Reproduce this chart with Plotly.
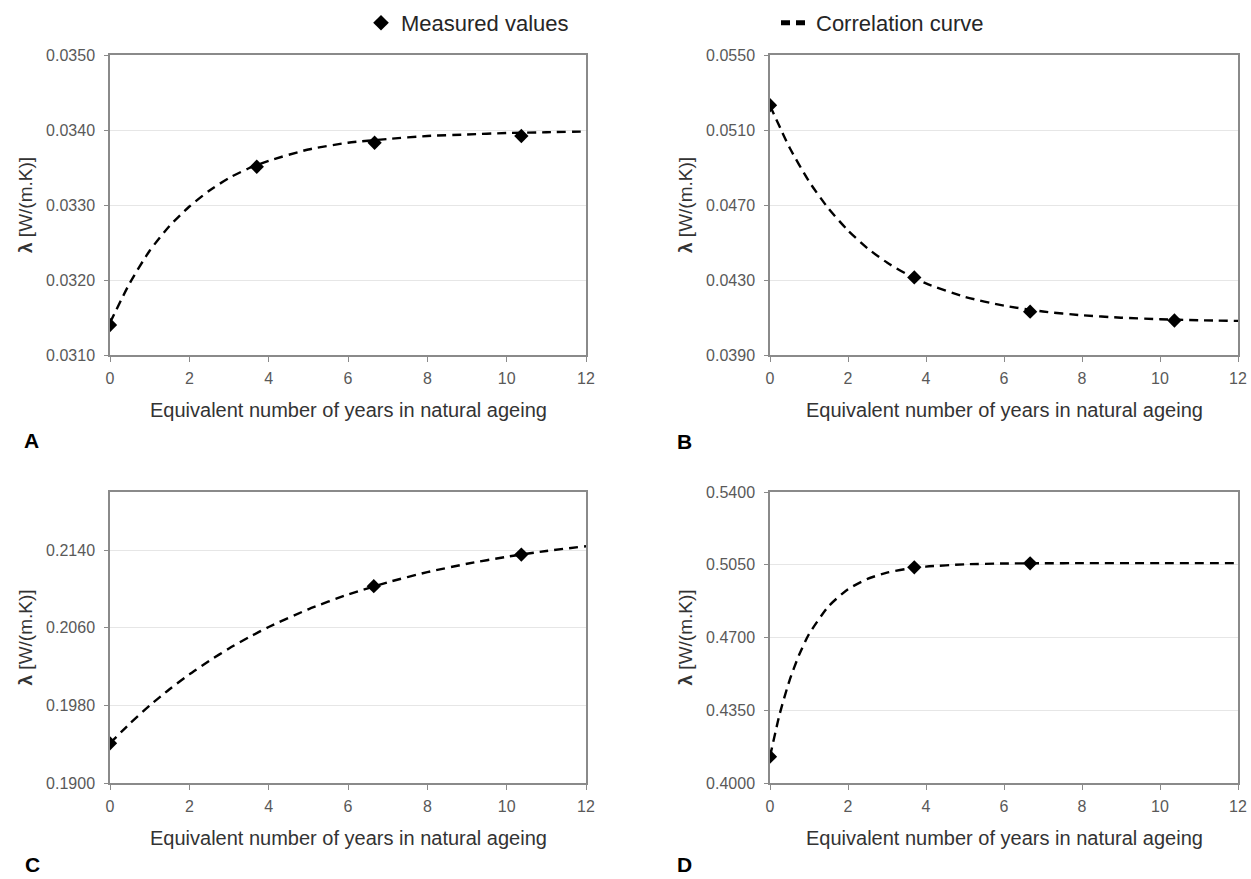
import plotly.graph_objects as go

# ---------------- data ----------------
# measured values (read from the picture)
a_x = [0, 3.7, 6.67, 10.37]
a_y = [0.03140, 0.03351, 0.03383, 0.03392]
b_x = [0, 3.7, 6.67, 10.37]
b_y = [0.05232, 0.04314, 0.04131, 0.04084]
c_x = [0, 6.65, 10.37]
c_y = [0.19409, 0.21029, 0.21355]
d_x = [0, 3.7, 6.67]
d_y = [0.41266, 0.50376, 0.50570]

# correlation curves
curve_x = [0, 0.5, 1, 1.5, 2, 2.5, 3, 3.5, 4, 5, 6, 7, 8, 9, 10, 11, 12]
a_curve = [0.03143, 0.03196, 0.03239, 0.03272, 0.03298, 0.03319, 0.03336, 0.03349,
           0.03359, 0.03374, 0.03383, 0.03388, 0.03392, 0.03394, 0.03396, 0.03397, 0.03398]
b_curve = [0.05230, 0.05007, 0.04826, 0.04681, 0.04564, 0.04469, 0.04393, 0.04332,
           0.04282, 0.04210, 0.04163, 0.04132, 0.04112, 0.04099, 0.04091, 0.04085, 0.04082]
c_curve = [0.19410, 0.19613, 0.19798, 0.19967, 0.20120, 0.20259, 0.20387, 0.20502,
           0.20608, 0.20791, 0.20943, 0.21069, 0.21174, 0.21260, 0.21332, 0.21392, 0.21441]
d_curve_x = [0, 0.25, 0.5, 0.75, 1, 1.5, 2, 2.5, 3, 3.5, 4, 5, 6, 7, 8, 10, 12]
d_curve = [0.4127, 0.4333, 0.4493, 0.4618, 0.4716, 0.4850, 0.4932, 0.4982, 0.5012,
           0.5030, 0.5041, 0.5052, 0.5056, 0.5057, 0.5058, 0.5058, 0.5058]

# axis settings
y_ranges = {"A": [0.031, 0.035], "B": [0.039, 0.055], "C": [0.19, 0.22], "D": [0.40, 0.54]}
y_dticks = {"A": 0.001, "B": 0.004, "C": 0.008, "D": 0.035}
x_range = [0, 12]
x_dtick = 2

panel_labels = ["A", "B", "C", "D"]
x_title = "Equivalent number of years in natural ageing"
y_title = "<b>λ</b> [W/(m.K)]"
legend_names = ["Measured values", "Correlation curve"]

# ---------------- layout geometry ----------------
W, H = 1251, 879
px = lambda v: v / W
py = lambda v: 1 - v / H

boxes = {
    "A": (110, 586, 55, 355),
    "B": (770, 1238, 55, 355),
    "C": (110, 586, 492, 783),
    "D": (770, 1238, 492, 783),
}
label_y = [440, 441, 864, 864]
label_x = [31, 684, 32, 684]

series = {
    "A": (a_x, a_y, curve_x, a_curve),
    "B": (b_x, b_y, curve_x, b_curve),
    "C": (c_x, c_y, curve_x, c_curve),
    "D": (d_x, d_y, d_curve_x, d_curve),
}

TICK_FONT = dict(family="Liberation Sans Narrow, Arial Narrow, Liberation Sans, Arial", size=16, color="#595959")
TEXT_FONT = "Liberation Sans, Arial, sans-serif"
AXIS_COLOR = "#8a8a8a"
GRID_COLOR = "#e6e6e6"

fig = go.Figure()
layout = dict(
    width=W, height=H,
    margin=dict(l=0, r=0, t=0, b=0, autoexpand=False),
    paper_bgcolor="white", plot_bgcolor="white",
    showlegend=True,
    legend=dict(
        orientation="h", x=px(361), y=1 - 2 / H, xanchor="left", yanchor="top",
        entrywidth=370, entrywidthmode="pixels",
        font=dict(family=TEXT_FONT, size=22, color="#262626"),
        bgcolor="rgba(0,0,0,0)", itemsizing="constant",
    ),
)
annotations = []

for i, key in enumerate(["A", "B", "C", "D"]):
    xs = "" if i == 0 else str(i + 1)
    l, r, t, b = boxes[key]
    mx, my, cx, cy = series[key]
    fig.add_trace(go.Scatter(
        x=cx, y=cy, mode="lines", xaxis="x" + xs, yaxis="y" + xs,
        line=dict(color="black", width=2.4, dash="9px,6px", shape="spline", smoothing=0.6),
        name=legend_names[1], showlegend=(i == 0), legendrank=2, hoverinfo="skip",
    ))
    fig.add_trace(go.Scatter(
        x=mx, y=my, mode="markers", xaxis="x" + xs, yaxis="y" + xs,
        marker=dict(symbol="diamond", size=11, color="black"),
        name=legend_names[0], showlegend=(i == 0), legendrank=1,
    ))
    layout["xaxis" + xs] = dict(
        domain=[px(l), px(r)], anchor="y" + xs, range=x_range, dtick=x_dtick, tick0=0,
        showgrid=False, zeroline=False, showline=True, linecolor=AXIS_COLOR, linewidth=1.5,
        mirror=True, ticks="outside", ticklen=5, tickcolor=AXIS_COLOR, tickwidth=1.2,
        tickfont=TICK_FONT, ticklabelstandoff=3, ticklabeloverflow="allow",
    )
    layout["yaxis" + xs] = dict(
        domain=[py(b), py(t)], anchor="x" + xs, range=y_ranges[key], dtick=y_dticks[key],
        tick0=y_ranges[key][0], tickformat=".4f",
        showgrid=True, gridcolor=GRID_COLOR, gridwidth=1.2, zeroline=False,
        showline=True, linecolor=AXIS_COLOR, linewidth=1.5, mirror=True,
        ticks="outside", ticklen=4, tickcolor=AXIS_COLOR, tickwidth=1.2,
        tickfont=TICK_FONT, ticklabelstandoff=6,
    )
    # x-axis title
    annotations.append(dict(
        text=x_title, x=px((l + r) / 2), y=py(b + 55), xref="paper", yref="paper",
        xanchor="center", yanchor="middle", showarrow=False,
        font=dict(family=TEXT_FONT, size=20, color="#333333"),
    ))
    # y-axis title
    annotations.append(dict(
        text=y_title, x=px(l - 85), y=py((t + b) / 2), xref="paper", yref="paper",
        xanchor="center", yanchor="middle", showarrow=False, textangle=-90,
        font=dict(family=TEXT_FONT, size=19, color="#333333"),
    ))
    # panel label
    annotations.append(dict(
        text="<b>" + panel_labels[i] + "</b>", x=px(label_x[i]), y=py(label_y[i]),
        xref="paper", yref="paper", xanchor="center", yanchor="middle", showarrow=False,
        font=dict(family=TEXT_FONT, size=21, color="black"),
    ))

layout["annotations"] = annotations
fig.update_layout(**layout)
fig.write_html(
    "out.html",
    config={"displayModeBar": False},
    post_script="document.body.style.margin='0';document.body.style.overflow='hidden';",
)
